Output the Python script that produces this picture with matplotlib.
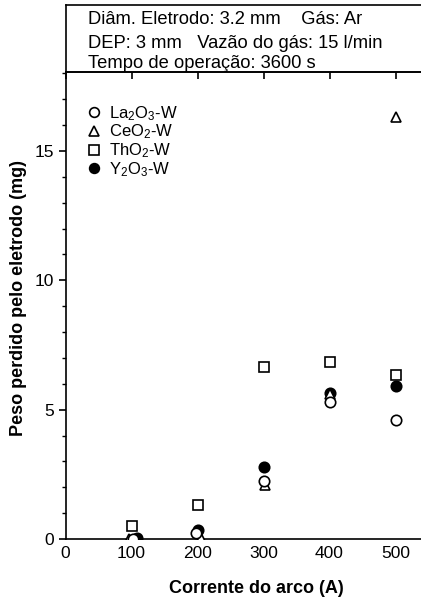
import matplotlib
matplotlib.use("Agg")
import matplotlib.pyplot as plt
from matplotlib.lines import Line2D

plt.rcParams['font.family'] = ['Liberation Sans', 'DejaVu Sans']
plt.rcParams['mathtext.fontset'] = 'custom'
plt.rcParams['mathtext.rm'] = 'Liberation Sans'
plt.rcParams['mathtext.it'] = 'Liberation Sans'

# Data (current in A, mass loss in mg)
la_x = [103, 198, 300, 400, 500]
la_y = [0.0, 0.25, 2.25, 5.3, 4.6]
ce_x = [96, 205, 303, 400, 500]
ce_y = [0.0, 0.05, 2.1, 5.6, 16.3]
th_x = [100, 200, 300, 400, 500]
th_y = [0.5, 1.3, 6.65, 6.85, 6.35]
y_x = [108, 200, 300, 400, 500]
y_y = [0.05, 0.35, 2.8, 5.65, 5.9]

labels = ['La$_2$O$_3$-W', 'CeO$_2$-W', 'ThO$_2$-W', 'Y$_2$O$_3$-W']
xticks = [0, 100, 200, 300, 400, 500]
yticks = [0, 5, 10, 15]
info_lines = ['Diâm. Eletrodo: 3.2 mm    Gás: Ar',
              'DEP: 3 mm   Vazão do gás: 15 l/min',
              'Tempo de operação: 3600 s']

W, H = 421, 598
fig = plt.figure(figsize=(W / 100, H / 100), dpi=100)
x0 = 65.5
ax = fig.add_axes([x0 / W, (H - 539) / H, 1 - x0 / W, (539 - 72) / H])
ax.set_xlim(0, (W - x0) / 0.66)
ax.set_ylim(0, 18.05)

ms = 7.5
ew = 1.2
ax.plot(th_x, th_y, ls='none', marker='s', ms=ms, mfc='white', mec='black', mew=ew, zorder=3)
ax.plot(y_x, y_y, ls='none', marker='o', ms=ms, mfc='black', mec='black', mew=ew, zorder=3)
ax.plot(ce_x, ce_y, ls='none', marker='^', ms=ms, mfc='white', mec='black', mew=ew, zorder=4)
ax.plot(la_x, la_y, ls='none', marker='o', ms=ms, mfc='white', mec='black', mew=ew, zorder=5)

for s in ['left', 'bottom', 'top']:
    ax.spines[s].set_linewidth(1.2)
ax.spines['right'].set_visible(False)

ax.set_xticks(xticks)
ax.set_yticks(yticks)
ax.set_yticks(range(0, 19), minor=True)
ax.tick_params(axis='x', which='both', bottom=False, top=True, labelbottom=True,
               direction='in', length=5, width=1.2, labelsize=12.5, pad=5)
ax.tick_params(axis='y', which='major', direction='out', length=5, width=1.2,
               labelsize=12.5, pad=3)
ax.tick_params(axis='y', which='minor', direction='out', length=3, width=1.0)

ax.set_xlabel('Corrente do arco (A)', fontsize=13, fontweight='bold')
ax.xaxis.set_label_coords((256 - x0) / (W - x0), -(580 - 539) / (539 - 72))
ax.set_ylabel('Peso perdido pelo eletrodo (mg)', fontsize=13, fontweight='bold')
ax.yaxis.set_label_coords(-(x0 - 27) / (W - x0), (539 - 298) / (539 - 72))

handles = [
    Line2D([], [], ls='none', marker='o', ms=7, mfc='white', mec='black', mew=ew),
    Line2D([], [], ls='none', marker='^', ms=7, mfc='white', mec='black', mew=ew),
    Line2D([], [], ls='none', marker='s', ms=7, mfc='white', mec='black', mew=ew),
    Line2D([], [], ls='none', marker='o', ms=7, mfc='black', mec='black', mew=ew),
]
ax.legend(handles, labels, loc='upper left', frameon=False, fontsize=12,
          bbox_to_anchor=((86 - x0) / (W - x0), 1 - (104 - 72) / (539 - 72)),
          borderaxespad=0, borderpad=0, handlelength=1.0, handletextpad=0.4,
          labelspacing=0.0)

# info box above the plot
bx = fig.add_axes([x0 / W, (H - 72) / H, 1 - x0 / W + 0.01, (72 - 5) / H])
bx.set_xticks([])
bx.set_yticks([])
bx.spines['right'].set_visible(False)
for s in ['left', 'bottom', 'top']:
    bx.spines[s].set_linewidth(1.2)
bx.patch.set_alpha(0)
for i, line in enumerate(info_lines):
    fig.text(88 / W, 1 - [20, 44, 63.5][i] / H, line, fontsize=13.2,
             ha='left', va='center')

fig.savefig('out.png', dpi=100)
